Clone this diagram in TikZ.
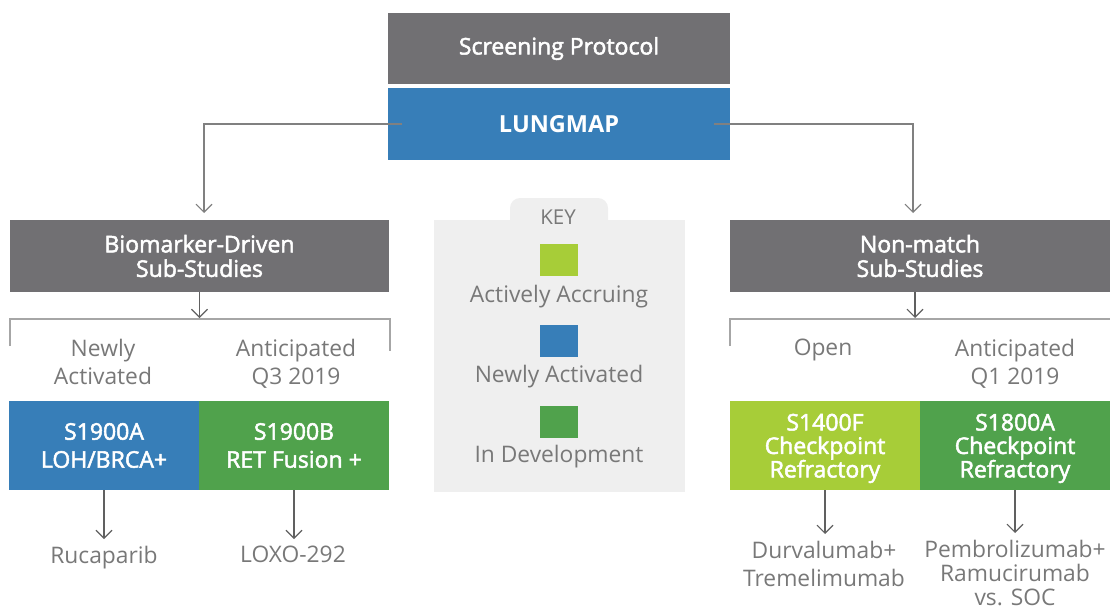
\documentclass[tikz,border=0pt]{standalone}
\usepackage{fontspec}
\setmainfont{Open Sans}
\newfontfamily\semib{Open Sans}[FakeBold=2.2]
\usetikzlibrary{arrows.meta}
\definecolor{boxgray}{HTML}{717073}
\definecolor{mapblue}{HTML}{377EB8}
\definecolor{devgreen}{HTML}{50A24C}
\definecolor{accrlime}{HTML}{A7CD38}
\definecolor{keygray}{HTML}{EFEFEF}
\definecolor{txtgray}{HTML}{787878}
\definecolor{linegray}{HTML}{606060}
\newcommand{\lblfont}{\fontsize{22.8}{28}\selectfont} % Label size.
\newcommand{\lowtop}{\rule{0pt}{22.5pt}} % Pushes a first line down.

\begin{document}
\begin{tikzpicture}[x=1pt,y=-1pt,
  box/.style={text=white, align=center, inner sep=0pt, font=\semib\fontsize{23}{24.5}\selectfont},
  graybox/.style={box, fill=boxgray, minimum width=380, minimum height=72},
  study/.style={box, minimum width=190, minimum height=89, font=\semib\fontsize{23}{28}\selectfont},
  note/.style={text=txtgray, align=center, inner sep=0pt, font=\lblfont, anchor=north},
  keysq/.style={minimum width=38, minimum height=32, inner sep=0pt},
  conn/.style={draw=linegray, line width=1.1pt, -{Straight Barb[length=8pt,width=16pt]}},
  bracket/.style={draw=black!35, line width=1.6pt}]
\useasboundingbox (0,0) rectangle (1110,610);

% top
\node[graybox, minimum width=342, minimum height=71] (screen) at (559,48.5) {Screening Protocol};
\node[box, fill=mapblue, font=\bfseries\fontsize{23.5}{24}\selectfont,
  minimum width=342, minimum height=72] (lung) at (559,124) {LUNGMAP};

% sub-studies
\node[graybox, minimum width=379] (bio) at (199.5,256) {Biomarker-Driven\\Sub-Studies};
\node[graybox] (nonm) at (920,256) {Non-match\\Sub-Studies};
\coordinate (bioin) at (204,213);
\coordinate (nonin) at (913,213);
\draw[conn, draw=black!50] ([xshift=14]lung.west) -| (bioin);
\draw[conn, draw=black!50] ([xshift=-16]lung.east) -| (nonin);

% brackets
\coordinate (biobr) at (199.5,318);
\coordinate (nonbr) at (915,318);
\draw[bracket] (10,346) |- (390,319) -- (390,351);
\draw[bracket] (730,346) |- (1112,319);
\draw[conn] (bio.south) -- (biobr);
\draw[conn] ([xshift=-5]nonm.south) -- (nonbr);

\node[note] (newly) at (103,338.5) {Newly\\Activated};
\node[note] (antq3) at (296,338.5) {Anticipated\\Q3 2019};
\node[note] (open) at (823,338.5) {Open};
\node[note] (antq1) at (1015,338.5) {Anticipated\\Q1 2019};

% studies
\node[study, fill=mapblue] (s19a) at (104,445.5) {S1900A\\LOH/BRCA+};
\node[study, fill=devgreen] (s19b) at (294,445.5) {S1900B\\RET Fusion +};
\node[study, fill=accrlime, font=\semib\fontsize{23}{23.5}\selectfont] (s14f) at (825,445.5)
  {\lowtop S1400F\\Checkpoint\\Refractory};
\node[study, fill=devgreen, font=\semib\fontsize{23}{23.5}\selectfont] (s18a) at (1015,445.5)
  {\lowtop S1800A\\Checkpoint\\Refractory};

% agents
\node[note] (ruca) at (104,546) {Rucaparib};
\node[note] (loxo) at (293,546) {LOXO-292};
\node[note] (durv) at (824,541) {Durvalumab+\\Tremelimumab};
\node[note, font=\fontsize{22.8}{24}\selectfont] (pemb) at (1015,540)
  {Pembrolizumab+\\Ramucirumab\\vs. SOC};
\foreach \s/\d in {s19a/ruca, s19b/loxo, s14f/durv, s18a/pemb}
  \draw[conn, shorten >=7pt] (\s.south) -- (\s.south |- \d.north);

% key
\fill[keygray] (434,220) rectangle (685,492);
\fill[keygray, rounded corners=10] (510,236) rectangle (608,198);
\node[text=txtgray, font=\fontsize{20.5}{24}\selectfont, inner sep=0pt] (key) at (558,217) {KEY};
\node[keysq, fill=accrlime] (sqacc) at (559,260) {};
\node[keysq, fill=mapblue] (sqnew) at (559,341) {};
\node[keysq, fill=devgreen] (sqdev) at (559,422) {};
\node[note, anchor=center] (tacc) at (559,297) {Actively Accruing};
\node[note, anchor=center] (tnew) at (559,377) {Newly Activated};
\node[note, anchor=center] (tdev) at (559,457) {In Development};
\end{tikzpicture}
\end{document}
